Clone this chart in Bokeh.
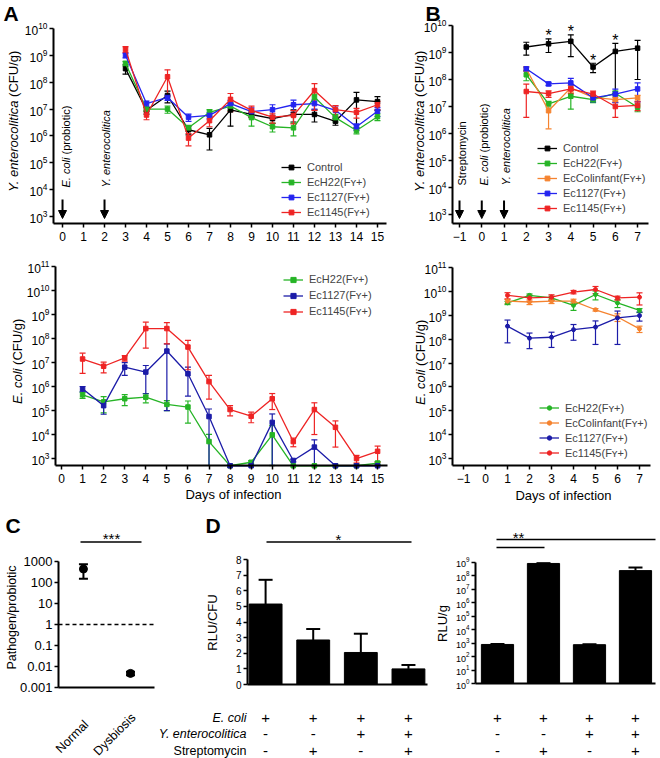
import math
from bokeh.plotting import figure
from bokeh.models import (ColumnDataSource, Whisker, TeeHead, Label, Arrow, NormalHead,
                          Legend, LegendItem, FixedTicker, CustomJSTickFormatter, Range1d,
                          LinearAxis, LogAxis, LinearScale, LogScale)
from bokeh.embed import file_html
from bokeh.resources import INLINE

FONT = "Liberation Sans"
BLACK = "#000000"
GREEN = "#26b426"
BLUE = "#2424f0"
NAVY = "#1c1ca8"
RED = "#ee2424"
ORANGE = "#f5832f"

# ---------------- data ----------------
# A (top): Y. enterocolitica CFU/g, days 3-15
days_a = [3, 4, 5, 6, 7, 8, 9, 10, 11, 12, 13, 14, 15]
ya_control = [3.2e8, 9.0e6, 3.2e7, 1.7e6, 1.1e6, 9.3e6, 6.3e6, 4.4e6, 6.3e6, 6.3e6, 3.5e6, 2.2e7, 1.9e7]
ya_control_sem = [1.2e8, 2.5e6, 1.5e7, 6e5, 8e5, 7e6, 1.5e6, 1.5e6, 3e6, 3e6, 1e6, 2e7, 1e7]
ya_ech22 = [5.0e8, 1.0e7, 1.0e7, 2.0e6, 7.6e6, 1.3e7, 4.8e6, 2.2e6, 2.0e6, 2.8e7, 4.8e6, 1.6e6, 5.2e6]
ya_ech22_sem = [1e8, 1.5e6, 3e6, 5e5, 2e6, 4e6, 2.5e6, 8e5, 1e6, 8e6, 1.5e6, 4e5, 1.5e6]
ya_ec1127 = [1.0e9, 1.6e7, 2.7e7, 5.0e6, 5.8e6, 1.6e7, 8.1e6, 9.5e6, 1.45e7, 1.6e7, 9.0e6, 2.2e6, 8.3e6]
ya_ec1127_sem = [2e8, 4e6, 6e6, 1.5e6, 1.5e6, 5e6, 3e6, 5e6, 7e6, 6e6, 4e6, 6e5, 3e6]
ya_ec1145 = [1.7e9, 6.0e6, 1.6e8, 8.3e5, 3.7e6, 2.3e7, 8.9e6, 5.0e6, 5.8e6, 4.9e7, 9.5e6, 7.6e6, 1.45e7]
ya_ec1145_sem = [4e8, 2e6, 1.3e8, 4e5, 1.5e6, 1.5e7, 4e6, 2e6, 3e6, 4e7, 4e6, 3e6, 5e6]

# A (bottom): E. coli CFU/g, days 1-15 (500 = below detection)
days_b = list(range(1, 16))
ea_ech22 = [4.5e5, 2.3e5, 3.1e5, 3.6e5, 1.8e5, 1.4e5, 5.1e3, 500, 700, 9.7e3, 500, 500, 500, 500, 650]
ea_ech22_sem = [1.3e5, 1.5e5, 1.5e5, 1.5e5, 8e4, 1.1e5, 5e3, 0, 100, 1.4e4, 0, 0, 0, 0, 100]
ea_ec1127 = [8e5, 1.6e5, 6.4e6, 4e6, 3e7, 3.4e6, 5.6e4, 500, 500, 3.2e4, 830, 3e3, 500, 500, 500]
ea_ec1127_sem = [2e5, 9e4, 3.5e6, 3.5e6, 2.99e7, 3e6, 6e4, 0, 0, 4e4, 100, 3e3, 0, 0, 0]
ea_ec1145 = [1.4e7, 7e6, 1.55e7, 2.6e8, 2.6e8, 4.4e7, 1.6e6, 1.1e5, 5.8e4, 3.1e5, 5.1e3, 1.1e5, 2e4, 1e3, 2e3]
ea_ec1145_sem = [1.05e7, 3.3e6, 4e6, 2.2e8, 2e8, 3.9e7, 1.3e6, 5e4, 2.7e4, 2e5, 2e3, 1e5, 1.7e4, 3.5e2, 1.3e3]

# B (top): Y. enterocolitica CFU/g after streptomycin, days 2-7
days_c = [2, 3, 4, 5, 6, 7]
yb_control = [1.6e9, 2.1e9, 2.6e9, 2.9e8, 1.1e9, 1.45e9]
yb_control_sem = [8e8, 1.1e9, 1.9e9, 1.1e8, 1.07e9, 1.35e9]
yb_ech22 = [1.5e8, 1.26e7, 2.4e7, 1.8e7, 3.1e7, 9.4e6]
yb_ech22_sem = [6e7, 3e6, 1.6e7, 4e6, 6e6, 3e6]
yb_colinfant = [2.5e8, 7e6, 4.9e7, 2.2e7, 1.8e7, 2.1e7]
yb_colinfant_sem = [5e7, 5.5e6, 1.5e7, 5e6, 4e6, 5e6]
yb_ec1127 = [2.5e8, 6.9e7, 7.5e7, 2.1e7, 2.9e7, 4.5e7]
yb_ec1127_sem = [4e7, 1e7, 3.5e7, 6e6, 1.5e7, 3e7]
yb_ec1145 = [3.6e7, 3e7, 4.5e7, 2.9e7, 1e7, 1.1e7]
yb_ec1145_sem = [3.2e7, 8e6, 1.5e7, 8e6, 6e6, 4e6]
star_days = [3, 4, 5, 6]

# B (bottom): E. coli CFU/g, days 1-7
days_d = [1, 2, 3, 4, 5, 6, 7]
eb_ech22 = [3.3e9, 6.8e9, 5.3e9, 2.6e9, 7.4e9, 3.3e9, 1.6e9]
eb_ech22_sem = [5e8, 1e9, 1e9, 1e9, 3e9, 1.2e9, 3e8]
eb_colinfant = [3.9e9, 3.6e9, 3.9e9, 3.9e9, 1.7e9, 8.5e8, 2.7e8]
eb_colinfant_sem = [8e8, 8e8, 8e8, 8e8, 2e8, 3e8, 8e7]
eb_ec1127 = [3.5e8, 1.1e8, 1.2e8, 2.5e8, 3.2e8, 7.8e8, 9.7e8]
eb_ec1127_sem = [2.8e8, 7e7, 7.5e7, 1.6e8, 2.6e8, 7.2e8, 4e8]
eb_ec1145 = [6.8e9, 5.3e9, 5.7e9, 9.4e9, 1.2e10, 5.3e9, 5.7e9]
eb_ec1145_sem = [2e9, 1.5e9, 1.5e9, 1.5e9, 4e9, 1e9, 3e9]

# C
groups_c = ["Normal", "Dysbiosis"]
ratio = [440, 0.0047]
ratio_sem = [290, 0.0009]

# D
cond_x = [1, 2, 3, 4]
cond_ecoli = ["+", "+", "+", "+"]
cond_yent = ["-", "-", "+", "+"]
cond_strep = ["-", "+", "-", "+"]
rlu_cfu = [5.15, 2.85, 2.05, 1.0]
rlu_cfu_sem = [1.55, 0.7, 1.2, 0.25]
rlu_g = [780, 7.8e8, 750, 2.3e8]
rlu_g_sem = [60, 4e7, 60, 1.6e8]

FY = "(F\u028f+)"

# ---------------- one page-sized canvas; page pixels as default ranges ----------------
W, H = 660, 758
p = figure(width=W, height=H, x_range=Range1d(0, W), y_range=Range1d(H, 0),
           x_axis_location=None, y_axis_location=None, min_border=0,
           toolbar_location=None, output_backend="svg")
p.grid.visible = False
p.outline_line_color = None
p.background_fill_color = "white"
p.border_fill_color = "white"

XR, YR, XS, YS = {}, {}, {}, {}


class Panel:
    """A sub-plot: box in page pixels (bx0..bx1, by0 top..by1 bottom) showing data ranges xr, yr."""

    def __init__(self, name, bx0, bx1, by0, by1, xr, yr, ylog=False):
        self.name, self.bx0, self.bx1, self.by0, self.by1 = name, bx0, bx1, by0, by1
        self.xr, self.yr, self.ylog = xr, yr, ylog
        self.kx = (bx1 - bx0) / (xr[1] - xr[0])
        self.Y0, self.Y1 = (math.log10(yr[0]), math.log10(yr[1])) if ylog else yr
        self.ky = (by1 - by0) / (self.Y1 - self.Y0)
        xs = xr[0] - bx0 / self.kx
        xe = xr[1] + (W - bx1) / self.kx
        ys = self.Y0 - (H - by1) / self.ky
        ye = self.Y1 + by0 / self.ky
        if ylog:
            ys, ye = 10 ** ys, 10 ** ye
        XR[name] = Range1d(xs, xe)
        YR[name] = Range1d(ys, ye)
        XS[name] = LinearScale()
        YS[name] = LogScale() if ylog else LinearScale()
        self.kw = dict(x_range_name=name, y_range_name=name)

    def PX(self, x):
        return self.bx0 + (x - self.xr[0]) * self.kx

    def PY(self, y):
        v = math.log10(y) if self.ylog else y
        return self.by1 - (v - self.Y0) * self.ky


def style_axis(ax, size, standoff):
    ax.axis_line_width = 2
    ax.axis_line_color = "black"
    ax.major_tick_line_width = 1.5
    ax.major_tick_line_color = "black"
    ax.major_tick_out = 4
    ax.major_tick_in = 0
    ax.minor_tick_line_color = None
    ax.major_label_text_font = FONT
    ax.major_label_text_color = "black"
    ax.major_label_text_font_size = f"{size}px"
    ax.major_label_standoff = standoff


def add_axes(P, xticks, yticks, ysize, xsize=12, yformatter=None):
    Ax = LogAxis if P.ylog else LinearAxis
    ya = Ax(fixed_location=P.xr[0], bounds=P.yr, ticker=FixedTicker(ticks=yticks), **P.kw)
    if yformatter is not None:
        ya.formatter = yformatter
    xa = LinearAxis(fixed_location=P.yr[0], bounds=P.xr, ticker=FixedTicker(ticks=xticks), **P.kw)
    style_axis(ya, ysize, 2)
    style_axis(xa, xsize, 4)
    p.add_layout(ya, "left")
    p.add_layout(xa, "below")


def label(x, y, s, size, align="center", baseline="middle", angle=0.0, style="normal"):
    p.add_layout(Label(x=x, y=y, text=s, text_font=FONT, text_font_size=f"{size}px",
                       text_align=align, text_baseline=baseline, angle=angle,
                       text_font_style=style, text_color="black"))


def hline(x0, x1, y, width=1.5):
    p.add_layout(Arrow(start=None, end=None, x_start=x0, x_end=x1, y_start=y, y_end=y,
                       line_width=width, line_color="black"))


def down_arrow(x, y0, y1):
    p.add_layout(Arrow(end=NormalHead(size=8, fill_color="black", line_color="black", line_width=1),
                       x_start=x, x_end=x, y_start=y0, y_end=y1, line_width=2, line_color="black"))


def series(P, x, y, sem, color, marker="square", size=4.5, cap=6):
    floor = P.yr[0]
    lo = [max(v - s, floor) for v, s in zip(y, sem)]
    hi = [v + s for v, s in zip(y, sem)]
    src = ColumnDataSource(dict(x=x, y=y, lo=lo, hi=hi))
    p.add_layout(Whisker(source=src, base="x", upper="hi", lower="lo", line_color=color, line_width=1.2,
                         upper_head=TeeHead(size=cap, line_color=color, line_width=1.2),
                         lower_head=TeeHead(size=cap, line_color=color, line_width=1.2), **P.kw))
    r1 = p.line("x", "y", source=src, line_color=color, line_width=1.3, **P.kw)
    r2 = p.scatter("x", "y", source=src, marker=marker, size=size, fill_color=color,
                   line_color=color, **P.kw)
    return [r1, r2]


def add_legend(items, left, bottom, row_h):
    leg = Legend(items=[LegendItem(label=lab, renderers=r) for lab, r in items],
                 location=(left, H - bottom), orientation="vertical",
                 border_line_color=None, background_fill_alpha=0, padding=0, margin=0,
                 spacing=3, glyph_width=20, glyph_height=row_h, label_height=row_h,
                 label_standoff=6, label_text_font=FONT, label_text_font_size="11px")
    p.add_layout(leg)


def ylab_mixed(x, yj, ital, norm, size=13):
    label(x, yj, ital, size, align="right", angle=math.pi / 2, style="italic")
    label(x, yj - 0.278 * size, norm, size, align="left", angle=math.pi / 2)


def letter(x, y, s):
    label(x, y, s, 21, align="left", style="bold")


# ---------------- panels ----------------
PA = Panel("a1", 53, 386, 28, 223, (-0.43, 15.43), (10 ** 2.74, 1e10), True)
PB = Panel("b1", 452, 648, 25, 223, (-1.315, 7.49), (10 ** 2.67, 1e10), True)
PAb = Panel("a2", 55, 387, 266, 465, (-0.285, 15.47), (10 ** 2.71, 1e11), True)
PBb = Panel("b2", 452, 650, 267, 465, (-1.5, 7.5), (10 ** 2.71, 1e11), True)
PC = Panel("c", 58, 154, 561, 687, (0.47, 2.51), (1e-3, 1e3), True)
PDL = Panel("d1", 247, 427, 559, 684, (0.62, 4.4), (0, 8), False)
PDR = Panel("d2", 475, 655, 561.5, 683, (0.522, 4.435), (1, 1e9), True)
p.extra_x_ranges = XR
p.extra_y_ranges = YR
p.extra_x_scales = XS
p.extra_y_scales = YS

# ---------------- Panel A top ----------------
add_axes(PA, list(range(16)), [10 ** k for k in range(3, 11)], 12)
rA = []
for nm, y, s, c in [("Control", ya_control, ya_control_sem, BLACK),
                    ("EcH22" + FY, ya_ech22, ya_ech22_sem, GREEN),
                    ("Ec1127" + FY, ya_ec1127, ya_ec1127_sem, BLUE),
                    ("Ec1145" + FY, ya_ec1145, ya_ec1145_sem, RED)]:
    rA.append((nm, series(PA, days_a, y, s, c)))
add_legend(rA, 281, 218, 12)
letter(3, 12.5, "A")
ylab_mixed(13, 100, "Y. enterocolitica", "(CFU/g)")
for d in [0, 2]:
    down_arrow(PA.PX(d), 199, 218)
label(PA.PX(0) + 3, 187, "E. coli", 11, align="left", angle=math.pi / 2, style="italic")
label(PA.PX(0) + 3, 187 - 3.0 * 11, "(probiotic)", 11, align="left", angle=math.pi / 2)
label(PA.PX(2) + 1, 187, "Y. enterocolitica", 11, align="left", angle=math.pi / 2, style="italic")

# ---------------- Panel B top ----------------
add_axes(PB, list(range(-1, 8)), [10 ** k for k in range(3, 11)], 12)
rB = []
for nm, y, s, c in [("Control", yb_control, yb_control_sem, BLACK),
                    ("EcH22" + FY, yb_ech22, yb_ech22_sem, GREEN),
                    ("EcColinfant" + FY, yb_colinfant, yb_colinfant_sem, ORANGE),
                    ("Ec1127" + FY, yb_ec1127, yb_ec1127_sem, BLUE),
                    ("Ec1145" + FY, yb_ec1145, yb_ec1145_sem, RED)]:
    rB.append((nm, series(PB, days_c, y, s, c)))
add_legend(rB, 537, 214, 12)
letter(425, 12.5, "B")
ylab_mixed(419, 100, "Y. enterocolitica", "(CFU/g)")
for d in [-1, 0, 1]:
    down_arrow(PB.PX(d), 200, 218)
label(PB.PX(-1) + 2, 185, "Streptomycin", 11, align="left", angle=math.pi / 2)
label(PB.PX(0) + 2, 185, "E. coli", 11, align="left", angle=math.pi / 2, style="italic")
label(PB.PX(0) + 2, 185 - 3.0 * 11, "(probiotic)", 11, align="left", angle=math.pi / 2)
label(PB.PX(1) + 2, 185, "Y. enterocolitica", 11, align="left", angle=math.pi / 2, style="italic")
for d in star_days:
    i = days_c.index(d)
    top = yb_control[i] + yb_control_sem[i]
    label(PB.PX(d), PB.PY(top) - 7 + 4, "*", 16)

# ---------------- Panel A bottom ----------------
add_axes(PAb, list(range(16)), [10 ** k for k in range(3, 12)], 12)
rAb = []
for nm, y, s, c in [("EcH22" + FY, ea_ech22, ea_ech22_sem, GREEN),
                    ("Ec1127" + FY, ea_ec1127, ea_ec1127_sem, NAVY),
                    ("Ec1145" + FY, ea_ec1145, ea_ec1145_sem, RED)]:
    rAb.append((nm, series(PAb, days_b, y, s, c)))
add_legend(rAb, 283, 317.5, 13)
ylab_mixed(17, 368, "E. coli", "(CFU/g)")
label(233, 494, "Days of infection", 13)

# ---------------- Panel B bottom ----------------
add_axes(PBb, list(range(-1, 8)), [10 ** k for k in range(3, 12)], 12)
rBb = []
for nm, y, s, c in [("EcH22" + FY, eb_ech22, eb_ech22_sem, GREEN),
                    ("EcColinfant" + FY, eb_colinfant, eb_colinfant_sem, ORANGE),
                    ("Ec1127" + FY, eb_ec1127, eb_ec1127_sem, NAVY),
                    ("Ec1145" + FY, eb_ec1145, eb_ec1145_sem, RED)]:
    rBb.append((nm, series(PBb, days_d, y, s, c, marker="circle", size=4)))
add_legend(rBb, 539, 458.5, 11)
ylab_mixed(420, 369, "E. coli", "(CFU/g)")
label(563, 495, "Days of infection", 13)

# ---------------- Panel C ----------------
add_axes(PC, [], [10 ** k for k in range(-3, 4)], 13,
         yformatter=CustomJSTickFormatter(code="return tick >= 1 ? tick.toFixed(0) : String(tick);"))
p.segment(x0=[PC.xr[0]], x1=[PC.xr[1]], y0=[1], y1=[1], line_dash="4 3", line_width=1.5,
          line_color="black", **PC.kw)
srcC = ColumnDataSource(dict(x=[1, 2], y=ratio,
                             lo=[v - s for v, s in zip(ratio, ratio_sem)],
                             hi=[v + s for v, s in zip(ratio, ratio_sem)]))
p.add_layout(Whisker(source=srcC, base="x", upper="hi", lower="lo", line_color="black", line_width=2,
                     upper_head=TeeHead(size=9, line_color="black", line_width=2),
                     lower_head=TeeHead(size=9, line_color="black", line_width=2), **PC.kw))
p.scatter("x", "y", source=srcC, marker="circle", size=8, color="black", **PC.kw)
letter(5, 524.5, "C")
label(11, 617, "Pathogen/probiotic", 12.5, angle=math.pi / 2)
for i, gname in enumerate(groups_c):
    label(PC.PX(i + 1) + 3, 722 - 7 * i, gname, 12.5, align="right", angle=math.pi / 4)
hline(80, 141, 541.5)
label(111, 537.5, "***", 15)

# ---------------- Panel D left ----------------
add_axes(PDL, [], list(range(0, 9)), 10)
p.vbar(x=cond_x, top=rlu_cfu, bottom=0, width=0.69, fill_color="black", line_color="black", **PDL.kw)
srcDL = ColumnDataSource(dict(x=cond_x, lo=rlu_cfu, hi=[v + s for v, s in zip(rlu_cfu, rlu_cfu_sem)]))
p.add_layout(Whisker(source=srcDL, base="x", upper="hi", lower="lo", line_color="black", line_width=2,
                     upper_head=TeeHead(size=14, line_color="black", line_width=2), lower_head=None,
                     **PDL.kw))
letter(205, 524.5, "D")
label(212, 622, "RLU/CFU", 13, angle=math.pi / 2)
hline(266, 411, 541.5)
label(338, 538.5, "*", 15)
row_y = [717, 733, 750]
label(246, row_y[0], "E. coli", 12.5, align="right", style="italic")
label(246, row_y[1], "Y. enterocolitica", 12.5, align="right", style="italic")
label(246, row_y[2], "Streptomycin", 12.5, align="right")
for x, a, b, c in zip(cond_x, cond_ecoli, cond_yent, cond_strep):
    for sym, ry in zip([a, b, c], row_y):
        label(PDL.PX(x), ry, sym, 15)

# ---------------- Panel D right ----------------
add_axes(PDR, [], [10 ** k for k in range(0, 10)], 9)
p.vbar(x=cond_x, top=rlu_g, bottom=1, width=0.7, fill_color="black", line_color="black", **PDR.kw)
srcDR = ColumnDataSource(dict(x=cond_x, lo=rlu_g, hi=[v + s for v, s in zip(rlu_g, rlu_g_sem)]))
p.add_layout(Whisker(source=srcDR, base="x", upper="hi", lower="lo", line_color="black", line_width=2,
                     upper_head=TeeHead(size=14, line_color="black", line_width=2), lower_head=None,
                     **PDR.kw))
label(442, 623, "RLU/g", 13, angle=math.pi / 2)
hline(496, 655, 539)
hline(496, 544, 547)
label(518, 536.5, "**", 15)
for x, a, b, c in zip(cond_x, cond_ecoli, cond_yent, cond_strep):
    for sym, ry in zip([a, b, c], row_y):
        label(PDR.PX(x), ry, sym, 15)

open("out.html", "w").write(file_html(p, INLINE, title="Figure"))
